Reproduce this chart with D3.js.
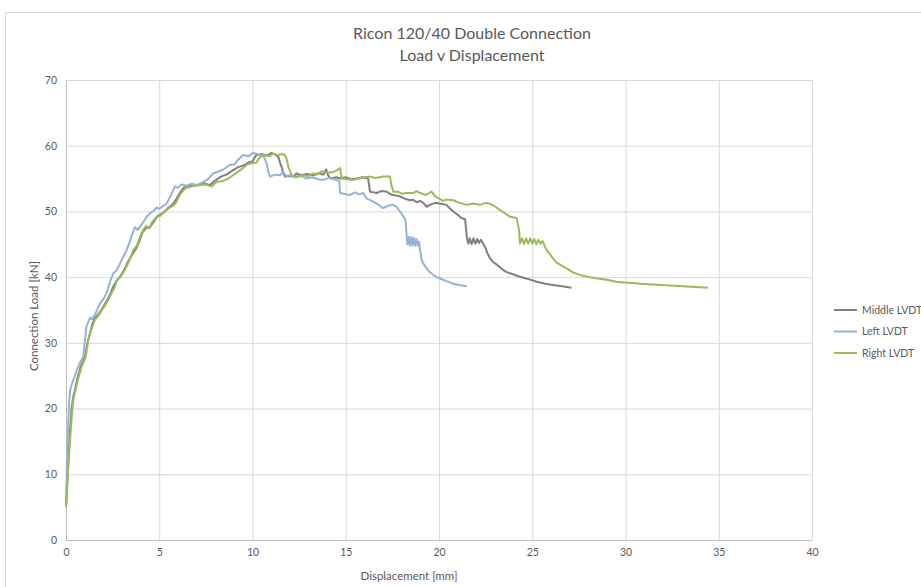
<!DOCTYPE html>
<html><head><meta charset="utf-8">
<script src="https://cdn.jsdelivr.net/npm/d3@7/dist/d3.min.js"></script>
<style>
html,body{margin:0;padding:0;background:#fff;overflow:hidden}
svg{display:block;font-family:Lato,"Open Sans",sans-serif}
</style></head><body>
<svg id="c" width="921" height="587"></svg>
<script>
const titleLines = ["Ricon 120/40 Double Connection", "Load v Displacement"];
const xLabel = "Displacement [mm]";
const yLabel = "Connection Load [kN]";
const xTicks = [0,5,10,15,20,25,30,35,40];
const yTicks = [0,10,20,30,40,50,60,70];
const seriesNames = ["Middle LVDT","Left LVDT","Right LVDT"];
const seriesColors = ["#7f7f7f","#95b3d7","#9bbb59"];

const middleLVDT = [[0,5],[0.05,8],[0.12,11.7],[0.2,16],[0.3,20],[0.4,22],[0.48,22.8],[0.6,24.5],[0.8,26.5],[1.02,27.9],[1.15,30],[1.29,31.5],[1.4,32.8],[1.55,33.8],[1.75,34.4],[2.0,35.5],[2.2,36.5],[2.4,37.6],[2.54,38.6],[2.7,39.4],[2.9,40.1],[3.1,41],[3.3,42.2],[3.5,43.2],[3.79,44.5],[3.95,45.6],[4.1,46.8],[4.3,47.5],[4.5,47.6],[4.7,48.4],[4.9,49.3],[5.1,49.6],[5.3,50.0],[5.5,50.6],[5.7,51.0],[5.9,51.8],[6.1,52.8],[6.3,53.6],[6.5,53.8],[6.8,54.1],[7.1,54.0],[7.4,54.3],[7.7,54.0],[8.0,54.7],[8.3,55.3],[8.6,55.6],[8.97,56.3],[9.2,56.7],[9.4,56.9],[9.6,57.1],[9.8,57.5],[10.0,57.6],[10.2,58.6],[10.5,58.7],[10.8,58.5],[11.0,58.9],[11.2,58.7],[11.38,58.3],[11.5,57.2],[11.56,56.8],[11.65,55.8],[11.74,55.3],[12.0,55.4],[12.19,55.3],[12.37,55.8],[12.6,55.5],[12.9,55.7],[13.26,55.5],[13.5,55.8],[13.8,55.6],[13.95,56.4],[14.05,55.5],[14.2,55.0],[14.5,55.2],[14.7,55.0],[15.0,55.2],[15.3,54.9],[15.6,55.0],[15.9,55.2],[16.2,55.0],[16.3,53.0],[16.5,52.9],[16.66,52.8],[16.9,53.1],[17.2,53.0],[17.4,52.6],[17.55,52.5],[17.9,52.3],[18.2,51.9],[18.45,51.7],[18.6,51.8],[18.8,51.4],[19.0,51.6],[19.2,51.2],[19.34,50.7],[19.5,51.0],[19.8,51.3],[20.05,51.2],[20.4,51.0],[20.6,50.4],[20.77,50.0],[21.0,49.5],[21.2,49.0],[21.4,48.8],[21.5,45.9],[21.57,45.1],[21.65,45.9],[21.75,45.0],[21.85,45.9],[21.95,45.1],[22.05,45.8],[22.15,45.2],[22.25,45.7],[22.35,45.2],[22.47,44.6],[22.6,43.6],[22.73,42.9],[22.9,42.3],[23.1,41.9],[23.35,41.3],[23.6,40.8],[24.0,40.4],[24.3,40.1],[24.8,39.7],[25.24,39.3],[25.7,39.0],[26.1,38.8],[26.6,38.6],[27.1,38.4]];

const leftLVDT = [[0,5],[0.03,9],[0.05,12],[0.1,16],[0.15,20],[0.22,22.8],[0.3,23.6],[0.39,24.3],[0.5,25.2],[0.6,26],[0.75,27],[0.93,27.9],[1.0,30],[1.1,32.5],[1.29,33.8],[1.4,33.6],[1.55,34.3],[1.7,35.2],[1.82,36],[2.0,36.6],[2.18,37.6],[2.36,39.3],[2.54,40.6],[2.7,41],[2.85,41.8],[3.07,43.1],[3.25,44.1],[3.4,45.2],[3.55,46.6],[3.7,47.6],[3.85,47.2],[4.0,47.8],[4.15,48.4],[4.33,49.2],[4.5,49.7],[4.7,50.1],[4.86,50.6],[5.0,50.4],[5.2,50.8],[5.4,51.2],[5.6,52.3],[5.84,53.8],[6.0,53.6],[6.2,54.1],[6.47,53.9],[6.7,54.2],[7.0,54.0],[7.36,54.5],[7.6,54.9],[7.9,55.8],[8.1,56.0],[8.4,56.3],[8.79,57.1],[9.0,57.1],[9.2,57.8],[9.5,58.6],[9.8,58.4],[10.0,58.9],[10.2,58.8],[10.4,58.6],[10.58,58.5],[10.76,57.3],[10.85,56],[10.94,55.3],[11.2,55.6],[11.47,55.5],[11.65,56.0],[11.8,55.4],[12.0,55.5],[12.3,55.2],[12.6,55.4],[12.9,55.0],[13.2,55.2],[13.5,54.9],[13.8,54.8],[14.1,55.1],[14.5,54.8],[14.65,54.6],[14.7,52.8],[14.9,52.7],[15.2,52.5],[15.5,52.9],[15.7,52.6],[15.94,52.8],[16.1,52.0],[16.4,51.6],[16.66,51.2],[17.0,50.5],[17.3,50.9],[17.55,51.0],[17.75,50.6],[17.9,50.0],[18.1,49.2],[18.2,48.7],[18.27,46.2],[18.3,45.0],[18.37,46.1],[18.44,44.8],[18.51,46.1],[18.58,44.8],[18.65,46.0],[18.72,44.8],[18.79,45.8],[18.86,44.8],[18.93,45.4],[19.0,43.8],[19.07,42.6],[19.2,41.9],[19.35,41.3],[19.5,40.8],[19.75,40.2],[20.05,39.8],[20.4,39.4],[20.77,39.0],[21.1,38.8],[21.5,38.6]];

const rightLVDT = [[0,5],[0.05,7],[0.12,11],[0.2,14.5],[0.3,18.5],[0.4,21.5],[0.5,22.7],[0.65,24.5],[0.85,26.5],[1.05,27.8],[1.2,30.5],[1.35,32],[1.55,33.5],[1.75,34.2],[2.0,35.3],[2.2,36.2],[2.4,37.3],[2.6,38.4],[2.72,39.4],[2.9,40],[3.1,40.8],[3.35,42.2],[3.61,44.1],[3.8,44.8],[3.95,46],[4.14,47.2],[4.3,47.8],[4.45,47.4],[4.6,48.3],[4.86,49.2],[5.04,49.3],[5.3,50.0],[5.58,50.6],[5.8,51.0],[5.93,51.5],[6.1,52.5],[6.38,53.5],[6.6,53.7],[6.9,53.9],[7.18,54.0],[7.5,54.1],[7.81,53.8],[8.08,54.5],[8.4,54.6],[8.7,55.0],[8.9,55.4],[9.15,55.9],[9.4,56.4],[9.69,57.1],[9.87,57.3],[10.2,57.4],[10.35,58.1],[10.58,58.6],[10.9,58.4],[11.1,58.8],[11.3,58.6],[11.6,58.7],[11.74,58.6],[11.83,58.0],[11.92,56.8],[12.1,55.5],[12.37,55.3],[12.73,55.5],[13.0,55.4],[13.26,55.8],[13.44,55.6],[13.7,56.1],[14.0,55.9],[14.33,56.0],[14.5,56.2],[14.7,56.6],[14.78,55.0],[15.1,54.9],[15.4,54.8],[15.7,55.0],[16.0,55.2],[16.3,55.3],[16.6,55.1],[17.0,55.3],[17.37,55.3],[17.45,54.0],[17.55,53.0],[17.8,53.0],[18.0,52.7],[18.27,52.8],[18.6,52.8],[18.8,53.1],[19.0,52.8],[19.3,52.5],[19.6,53.0],[19.8,52.3],[20.0,52.0],[20.2,51.6],[20.4,51.8],[20.77,51.7],[21.1,51.3],[21.5,51.0],[21.8,51.2],[22.2,51.0],[22.5,51.3],[22.7,51.2],[23.0,50.8],[23.27,50.2],[23.5,49.8],[23.8,49.2],[24.17,49.0],[24.3,47.0],[24.34,45.1],[24.45,45.9],[24.56,45.0],[24.67,45.9],[24.78,45.1],[24.89,45.9],[25.0,45.1],[25.11,45.8],[25.22,45.0],[25.33,45.7],[25.44,45.1],[25.55,45.5],[25.77,44.1],[25.95,43.5],[26.1,42.9],[26.3,42.2],[26.5,41.9],[26.8,41.4],[27.2,40.7],[27.6,40.3],[28.1,40.0],[28.5,39.8],[29.0,39.6],[29.5,39.3],[29.9,39.2],[30.4,39.1],[30.8,39.0],[31.7,38.85],[32.6,38.7],[33.5,38.55],[34.44,38.4]];

const seriesData = [middleLVDT, leftLVDT, rightLVDT];

const svg = d3.select("#c");
const W = 921, H = 587;
const m = {left:66, right:812, top:80, bottom:540};

svg.append("rect").attr("x",5.5).attr("y",12.5).attr("width",W+20).attr("height",H)
  .attr("fill","#fff").attr("stroke","#d9d9d9").attr("stroke-width",1);

const x = d3.scaleLinear().domain([0,40]).range([m.left,m.right]);
const y = d3.scaleLinear().domain([0,70]).range([m.bottom,m.top]);

const gx = svg.append("g").attr("transform",`translate(0,${m.bottom})`)
  .call(d3.axisBottom(x).tickValues(xTicks).tickSize(-(m.bottom-m.top)).tickFormat(d=>d).tickPadding(9));
const gy = svg.append("g").attr("transform",`translate(${m.left},0)`)
  .call(d3.axisLeft(y).tickValues(yTicks).tickSize(-(m.right-m.left)).tickFormat(d=>d).tickPadding(9));
[gx,gy].forEach(g=>{
  g.select(".domain").remove();
  g.selectAll(".tick line").attr("stroke","#d9d9d9").attr("stroke-width",1);
  g.selectAll(".tick text").attr("fill","#595959").attr("font-size","10.5px").attr("font-family","Lato");
});
svg.append("line").attr("x1",m.left).attr("x2",m.right).attr("y1",m.bottom+0.5).attr("y2",m.bottom+0.5).attr("stroke","#bfbfbf");
svg.append("line").attr("x1",m.left+0.5).attr("x2",m.left+0.5).attr("y1",m.top).attr("y2",m.bottom).attr("stroke","#bfbfbf");

const line = d3.line().x(d=>x(d[0])).y(d=>y(d[1]));
seriesData.forEach((s,i)=>{
  svg.append("path").datum(s).attr("d",line).attr("fill","none")
    .attr("stroke",seriesColors[i]).attr("stroke-width",2).attr("stroke-linejoin","round");
});

titleLines.forEach((t,i)=>{
  svg.append("text").attr("x",472).attr("y",39+i*22).attr("text-anchor","middle")
    .attr("fill","#595959").attr("font-size","16px").text(t);
});
svg.append("text").attr("x",409).attr("y",580).attr("text-anchor","middle")
  .attr("fill","#595959").attr("font-size","11.5px").text(xLabel);
svg.append("text").attr("transform","translate(38,316) rotate(-90)").attr("text-anchor","middle")
  .attr("fill","#595959").attr("font-size","11.5px").text(yLabel);

seriesNames.forEach((n,i)=>{
  const ly = 310 + i*21.5;
  svg.append("line").attr("x1",834).attr("x2",857).attr("y1",ly).attr("y2",ly)
    .attr("stroke",seriesColors[i]).attr("stroke-width",2);
  svg.append("text").attr("x",862).attr("y",ly+3.5).attr("fill","#595959")
    .attr("font-size","10.5px").text(n);
});
</script>
</body></html>
